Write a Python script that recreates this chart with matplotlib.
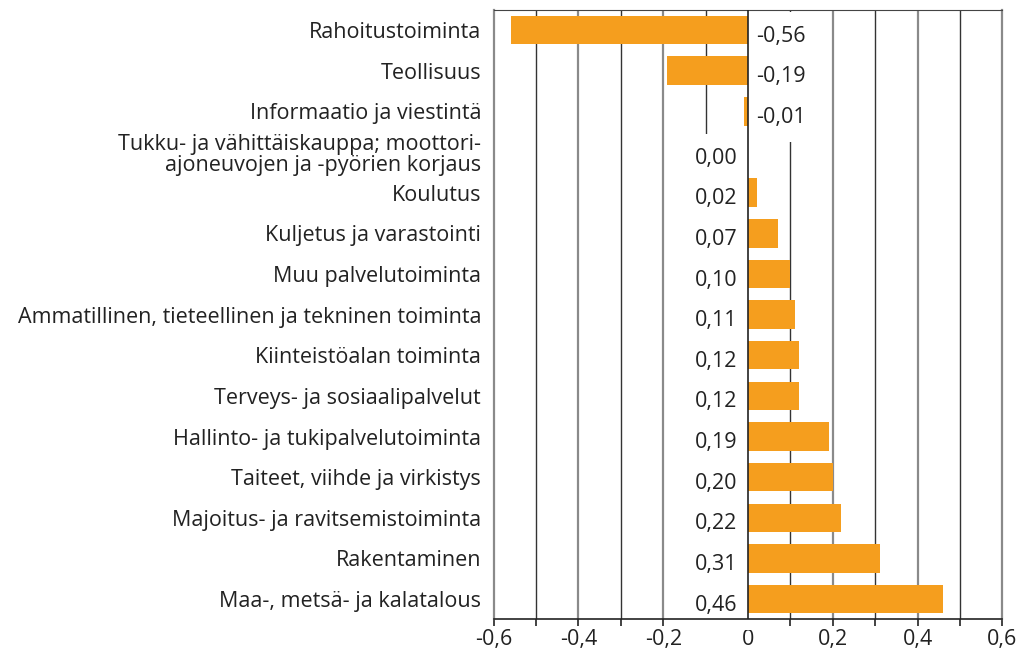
import matplotlib
matplotlib.use("Agg")
import matplotlib.pyplot as plt
from matplotlib.ticker import MultipleLocator, FixedLocator

categories = [
    "Rahoitustoiminta",
    "Teollisuus",
    "Informaatio ja viestintä",
    "Tukku- ja vähittäiskauppa; moottori-\najoneuvojen ja -pyörien korjaus",
    "Koulutus",
    "Kuljetus ja varastointi",
    "Muu palvelutoiminta",
    "Ammatillinen, tieteellinen ja tekninen toiminta",
    "Kiinteistöalan toiminta",
    "Terveys- ja sosiaalipalvelut",
    "Hallinto- ja tukipalvelutoiminta",
    "Taiteet, viihde ja virkistys",
    "Majoitus- ja ravitsemistoiminta",
    "Rakentaminen",
    "Maa-, metsä- ja kalatalous",
]
values = [-0.56, -0.19, -0.01, 0.00, 0.02, 0.07, 0.10, 0.11, 0.12, 0.12,
          0.19, 0.20, 0.22, 0.31, 0.46]
xticks = [-0.6, -0.4, -0.2, 0, 0.2, 0.4, 0.6]
xticklabels = ["-0,6", "-0,4", "-0,2", "0", "0,2", "0,4", "0,6"]

plt.rcParams['font.family'] = ['Open Sans', 'DejaVu Sans']
txt = '#222222'
orange = '#F59E1E'
fs = 15.5

fig = plt.figure(figsize=(10.24, 6.5), dpi=100)
ax = fig.add_axes([0.482, 0.047, 0.497, 0.938])

n = len(categories)
ypos = list(range(n))
ax.barh(ypos, values, height=0.7, color=orange, zorder=3)
ax.set_ylim(n - 0.5, -0.5)
ax.set_xlim(-0.6, 0.6)

# gridlines
for g in [-0.4, -0.2, 0.2, 0.4]:
    ax.axvline(g, color='#8a8a8a', lw=1.6, zorder=1)
for g in [-0.5, -0.3, -0.1, 0.1, 0.3, 0.5]:
    ax.axvline(g, color='#333333', lw=1.0, zorder=1)
ax.axvline(0, color='#222222', lw=1.2, zorder=4)

for s in ['left', 'right']:
    ax.spines[s].set_color('#8a8a8a')
    ax.spines[s].set_linewidth(1.6)
ax.spines['top'].set_color('#444444')
ax.spines['bottom'].set_color('#222222')
ax.spines['bottom'].set_linewidth(1.2)

ax.set_yticks(ypos)
ax.set_yticklabels(categories, fontsize=fs, color=txt, linespacing=1.0)
ax.tick_params(axis='y', length=0, pad=9)

ax.xaxis.set_major_locator(FixedLocator(xticks))
ax.set_xticklabels(xticklabels, fontsize=fs, color=txt)
ax.xaxis.set_minor_locator(MultipleLocator(0.1))
ax.tick_params(axis='x', which='both', direction='out', length=5, color='#222222', width=1.2, pad=2)

for y, v in zip(ypos, values):
    lab = f"{v:.2f}".replace('.', ',')
    if v < 0:
        ax.text(0.02, y + 0.15, lab, ha='left', va='center', fontsize=fs, color=txt,
                zorder=2, bbox=dict(facecolor='white', edgecolor='none', pad=10))
    else:
        ax.text(-0.025, y + 0.15, lab, ha='right', va='center', fontsize=fs, color=txt,
                zorder=2, bbox=dict(facecolor='white', edgecolor='none', pad=10))

fig.savefig('out.png', dpi=100)
